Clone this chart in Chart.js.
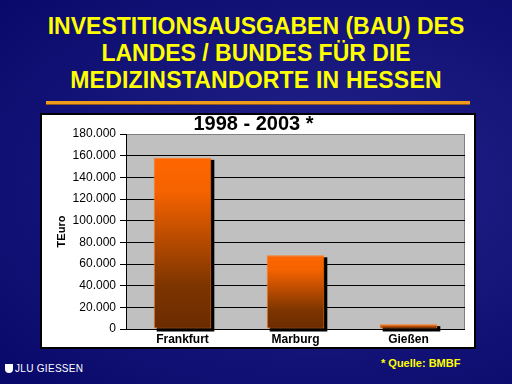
<!DOCTYPE html>
<html>
<head>
<meta charset="utf-8">
<script src="https://cdn.jsdelivr.net/npm/chart.js@4"></script>
<style>
  html, body { margin: 0; padding: 0; }
  body {
    width: 512px; height: 384px; overflow: hidden; position: relative;
    background: radial-gradient(ellipse at 62% 48%, #24248c 0%, #17177c 45%, #08086a 100%);
    font-family: "Liberation Sans", Arial, sans-serif;
  }
  .head {
    position: absolute; left: 0; width: 512px; text-align: center;
    color: #ffff00; font-weight: bold; font-size: 23px; line-height: 26.7px;
  }
  #rule { position: absolute; left: 46px; top: 101px; width: 424px; height: 3px; background: #f29a1a; box-shadow: 0 1px 0 #8a5a20; }
  #box { position: absolute; left: 40px; top: 113px; width: 432px; height: 232px; background: #fff; border: 2px solid #000; }
  #foot1 { position: absolute; left: 5px; top: 363px; color: #fff; font-size: 10px; letter-spacing: 0.3px; }
  #foot1 span { display: inline-block; width: 8px; height: 9px; background: #fff; margin-right: 2px; vertical-align: -1px; border-radius: 0 0 4px 4px; }
  #foot2 { position: absolute; left: 381px; top: 357px; color: #ffff00; font-size: 11px; font-weight: bold; }
</style>
</head>
<body>
<div class="head" style="top:13px">INVESTITIONSAUSGABEN (BAU) DES</div>
<div class="head" style="top:40px">LANDES / BUNDES FÜR DIE</div>
<div class="head" style="top:67px; letter-spacing:0.2px">MEDIZINSTANDORTE IN HESSEN</div>
<div id="rule"></div>
<div id="box"><canvas id="chart1" width="432" height="232"></canvas></div>
<div id="foot1"><span></span>JLU GIESSEN</div>
<div id="foot2">* Quelle: BMBF</div>
<script>
const ctx1 = document.getElementById('chart1').getContext('2d');

// TEuro, 1998 - 2003
const labels = ['Frankfurt', 'Marburg', 'Gießen'];
const invest = [158000, 68000, 4500];
const y_max = 180000;
const y_step = 20000;

function fmt(v) {
  return String(v).replace(/\B(?=(\d{3})+(?!\d))/g, '.');
}

// gradient per bar, from its top down to zero line
function barFill(c) {
  const chart = c.chart;
  if (!chart.chartArea || c.parsed == null) return '#c05000';
  const ys = chart.scales.y;
  const top = ys.getPixelForValue(c.parsed.y);
  const bot = ys.getPixelForValue(0);
  const g = chart.ctx.createLinearGradient(0, top, 0, bot);
  g.addColorStop(0, '#ff6600');
  g.addColorStop(0.2, '#f56200');
  g.addColorStop(0.75, '#7c3400');
  g.addColorStop(1, '#6c2c00');
  return g;
}

const plotBack = {
  id: 'plotBack',
  beforeDraw(chart) {
    const a = chart.chartArea, c = chart.ctx;
    c.save();
    c.fillStyle = '#c0c0c0';
    c.fillRect(a.left, a.top, a.right - a.left, a.bottom - a.top);
    c.strokeStyle = '#808080';
    c.lineWidth = 1;
    c.strokeRect(a.left + 0.5, a.top + 0.5, a.right - a.left - 1, a.bottom - a.top);
    c.restore();
  },
  beforeDatasetsDraw(chart) {
    // black drop shadow behind bars
    const c = chart.ctx;
    c.save();
    c.fillStyle = '#000';
    chart.getDatasetMeta(0).data.forEach(function(b) {
      c.fillRect(b.x - b.width / 2 + 3, b.y + 2, b.width, b.base - b.y + 1);
    });
    c.restore();
  }
};

new Chart(ctx1, {
  type: 'bar',
  data: {
    labels: labels,
    datasets: [{
      data: invest,
      backgroundColor: barFill,
      borderColor: '#ff7a1a',
      borderWidth: 1,
      borderSkipped: false,
      categoryPercentage: 1,
      barPercentage: 0.51,
    }],
  },
  plugins: [plotBack],
  options: {
    responsive: false,
    animation: false,
    layout: { padding: { top: 0, right: 9, bottom: 0, left: 0 } },
    plugins: {
      legend: { display: false },
      tooltip: { enabled: false },
      title: {
        display: true,
        text: '1998 - 2003 *',
        color: '#000',
        font: { family: 'Liberation Sans', size: 20, weight: 'bold', lineHeight: 0.95 },
        padding: 0,
      },
    },
    scales: {
      x: {
        grid: { display: false, drawTicks: false },
        border: { display: false },
        ticks: { color: '#000', padding: 3, font: { family: 'Liberation Sans', size: 12, weight: 'bold' } },
        afterFit(s) { s.height = 18; },
      },
      y: {
        min: 0,
        max: y_max,
        ticks: {
          stepSize: y_step,
          color: '#000',
          padding: 4,
          font: { family: 'Liberation Sans', size: 12 },
          callback: (v) => fmt(v),
        },
        grid: {
          color: (c) => (c.tick && c.tick.value === y_max ? '#808080' : '#000'),
          tickColor: '#000',
          tickLength: 6,
          lineWidth: 1,
        },
        border: { color: '#000' },
        title: {
          display: true,
          text: 'TEuro',
          color: '#000',
          font: { family: 'Liberation Sans', size: 11, weight: 'bold' },
          padding: { top: 13, bottom: 0 },
        },
        afterFit(s) { s.width = 84; },
      },
    },
  },
});
</script>
</body>
</html>
